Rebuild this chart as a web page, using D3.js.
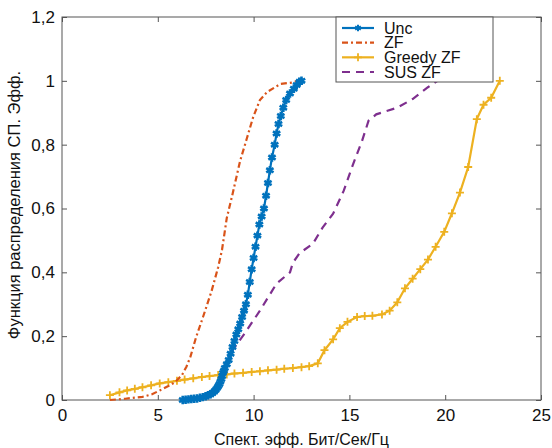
<!DOCTYPE html>
<html>
<head>
<meta charset="utf-8">
<script src="https://cdn.jsdelivr.net/npm/d3@7"></script>
<style>
  body { margin: 0; background: #fff; }
  svg text { font-family: "Liberation Sans Narrow", "Liberation Sans", Arial, sans-serif; fill: #111; }
</style>
</head>
<body>
<div id="chart"></div>
<script>
// curves: [x, y]
const uncData = [[6.3,0],[6.45,0.001],[6.6,0.002],[6.75,0.003],[6.9,0.004],[7.05,0.005],[7.2,0.007],[7.35,0.009],
  [7.5,0.012],[7.62,0.015],[7.75,0.018],[7.85,0.022],[7.95,0.027],[8.03,0.032],[8.1,0.038],[8.16,0.044],
  [8.22,0.05],[8.27,0.058],[8.32,0.066],[8.36,0.075],[8.4,0.085],[8.45,0.092],[8.5,0.1],[8.6,0.112],[8.7,0.125],
  [8.8,0.145],[8.9,0.166],[9.0,0.185],
  [9.1,0.205],[9.2,0.222],[9.3,0.24],[9.4,0.26],[9.5,0.28],[9.6,0.3],[9.7,0.33],[9.8,0.37],[9.9,0.41],[10.0,0.445],
  [10.1,0.48],[10.2,0.515],[10.3,0.55],[10.42,0.575],[10.54,0.6],[10.65,0.64],[10.75,0.68],[10.85,0.72],[10.96,0.76],
  [11.1,0.8],[11.2,0.835],[11.3,0.865],[11.42,0.89],[11.55,0.916],[11.7,0.94],[11.9,0.96],[12.1,0.975],[12.25,0.987],
  [12.4,0.997],[12.5,1.0]];
const zfData = [[2.5,0],[3.3,0.004],[4.2,0.01],[4.7,0.018],[5.1,0.03],[5.5,0.042],[5.9,0.056],[6.26,0.078],[6.5,0.105],
  [6.7,0.135],[7.0,0.197],[7.36,0.26],[7.8,0.34],[8.15,0.416],[8.35,0.47],[8.6,0.57],[8.9,0.645],[9.3,0.75],[9.65,0.82],
  [9.97,0.885],[10.33,0.94],[10.7,0.965],[11.4,0.99],[12.05,0.995],[12.3,1.0]];
const greedyData = [[2.5,0.015],[3.0,0.024],[3.4,0.03],[3.8,0.035],[4.2,0.04],[4.65,0.046],[5.1,0.052],[5.55,0.056],
  [6.0,0.06],[6.4,0.064],[6.85,0.068],[7.3,0.072],[7.7,0.075],[8.15,0.078],[8.6,0.08],[9.0,0.083],[9.45,0.085],
  [9.9,0.088],[10.33,0.09],[10.75,0.093],[11.2,0.095],[11.6,0.098],[12.05,0.1],[12.5,0.103],[12.9,0.106],[13.35,0.115],
  [13.7,0.156],[14.15,0.19],[14.5,0.225],[14.9,0.245],[15.4,0.26],[15.8,0.263],[16.2,0.264],[16.7,0.268],[17.1,0.28],
  [17.5,0.306],[17.9,0.35],[18.3,0.38],[18.7,0.41],[19.1,0.44],[19.5,0.48],[19.95,0.527],[20.35,0.585],[20.77,0.65],
  [21.2,0.73],[21.65,0.88],[22.0,0.925],[22.4,0.947],[22.85,1.0]];
const susData = [[8.0,0.03],[8.3,0.08],[8.6,0.12],[8.9,0.156],[9.55,0.21],[10.33,0.28],[11.2,0.365],[11.9,0.4],
  [12.05,0.43],[12.4,0.46],[13.1,0.49],[13.6,0.54],[14.15,0.584],[14.7,0.655],[15.2,0.74],[15.65,0.81],[16.0,0.875],
  [16.4,0.895],[17.5,0.916],[18.3,0.943],[19.1,0.98],[19.6,1.0]];

const seriesNames = ["Unc", "ZF", "Greedy ZF", "SUS ZF"];
const xTicks = [0, 5, 10, 15, 20, 25];
const yTicks = [0, 0.2, 0.4, 0.6, 0.8, 1, 1.2];
const xTitle = "Спект. эфф. Бит/Сек/Гц";
const yTitle = "Функция распределения СП. Эфф.";

const width = 552, height = 448;
const margin = {top: 17, right: 11, bottom: 48, left: 62};

const x = d3.scaleLinear().domain([0, 25]).range([margin.left, width - margin.right]);
const y = d3.scaleLinear().domain([0, 1.2]).range([height - margin.bottom, margin.top]);

const svg = d3.select("#chart").append("svg")
  .attr("width", width)
  .attr("height", height);

const axisColor = "#555";

// box + ticks (inward, on all four sides like matlab)
function styleAxis(g) {
  g.select(".domain").remove();
  g.selectAll(".tick line").attr("stroke", axisColor);
  g.selectAll(".tick text").style("font-size", "17px");
}
svg.append("g")
  .attr("transform", `translate(0,${y(0)})`)
  .call(d3.axisBottom(x).tickValues(xTicks).tickSizeInner(-5).tickPadding(9).tickFormat(d3.format("d")))
  .call(styleAxis);
svg.append("g")
  .attr("transform", `translate(${x(0)},0)`)
  .call(d3.axisLeft(y).tickValues(yTicks).tickSizeInner(-5).tickPadding(7)
    .tickFormat(d => d3.format("~g")(d).replace(".", ",")))
  .call(styleAxis);
svg.append("g")
  .attr("transform", `translate(0,${y(1.2)})`)
  .call(d3.axisTop(x).tickValues(xTicks).tickSizeInner(-5).tickFormat(""))
  .call(styleAxis);
svg.append("g")
  .attr("transform", `translate(${x(25)},0)`)
  .call(d3.axisRight(y).tickValues(yTicks).tickSizeInner(-5).tickFormat(""))
  .call(styleAxis);

svg.append("rect")
  .attr("x", x(0)).attr("y", y(1.2))
  .attr("width", x(25) - x(0)).attr("height", y(0) - y(1.2))
  .attr("fill", "none").attr("stroke", axisColor).attr("stroke-width", 1);

const line = d3.line().x(d => x(d[0])).y(d => y(d[1]));

const styles = [
  {data: uncData, color: "#0072BD", dash: null, marker: "star"},
  {data: zfData, color: "#D95319", dash: "6,3,2,3", marker: null},
  {data: greedyData, color: "#EDB120", dash: null, marker: "plus"},
  {data: susData, color: "#7E2F8E", dash: "8,6", marker: null}
];

const plot = svg.append("g");

// draw order so that blue sits on top
[3, 2, 1, 0].forEach(i => {
  const s = styles[i];
  plot.append("path")
    .datum(s.data)
    .attr("d", line)
    .attr("fill", "none")
    .attr("stroke", s.color)
    .attr("stroke-width", 2.2)
    .attr("stroke-dasharray", s.dash);

  if (s.marker == "star") {
    plot.selectAll(".m" + i)
      .data(s.data)
      .enter()
      .append("path")
      .attr("class", "m" + i)
      .attr("transform", d => `translate(${x(d[0])},${y(d[1])})`)
      .attr("d", d3.symbol(d3.symbolAsterisk, 50))
      .attr("fill", "none")
      .attr("stroke", s.color)
      .attr("stroke-width", 2.6);
  }
  if (s.marker == "plus") {
    plot.selectAll(".m" + i)
      .data(s.data)
      .enter()
      .append("path")
      .attr("class", "m" + i)
      .attr("transform", d => `translate(${x(d[0])},${y(d[1])})`)
      .attr("d", "M-4,0H4M0,-4V4")
      .attr("fill", "none")
      .attr("stroke", s.color)
      .attr("stroke-width", 1.8);
  }
});

// legend
const legend = svg.append("g").attr("transform", "translate(336,17)");
legend.append("rect")
  .attr("width", 157).attr("height", 65)
  .attr("fill", "#fff").attr("stroke", axisColor);

const rowY = d3.scalePoint().domain(seriesNames).range([11, 55]);

seriesNames.forEach((name, i) => {
  const s = styles[i];
  const ly = rowY(name);
  legend.append("line")
    .attr("x1", 6).attr("x2", 38).attr("y1", ly).attr("y2", ly)
    .attr("stroke", s.color).attr("stroke-width", 2.2)
    .attr("stroke-dasharray", s.dash);
  if (s.marker == "star") {
    legend.append("path")
      .attr("transform", `translate(22,${ly})`)
      .attr("d", d3.symbol(d3.symbolAsterisk, 30))
      .attr("stroke", s.color).attr("stroke-width", 2).attr("fill", "none");
  }
  if (s.marker == "plus") {
    legend.append("path")
      .attr("transform", `translate(22,${ly})`)
      .attr("d", "M-4,0H4M0,-4V4")
      .attr("stroke", s.color).attr("stroke-width", 1.8).attr("fill", "none");
  }
  legend.append("text")
    .attr("x", 48).attr("y", ly)
    .attr("dy", "0.35em")
    .style("font-size", "16px")
    .text(name);
});

// titles
svg.append("text")
  .attr("x", x(12.5))
  .attr("y", 445)
  .attr("text-anchor", "middle")
  .style("font-size", "16px")
  .text(xTitle);

svg.append("text")
  .attr("transform", `translate(20,205) rotate(-90)`)
  .attr("text-anchor", "middle")
  .style("font-size", "16.5px")
  .text(yTitle);
</script>
</body>
</html>
